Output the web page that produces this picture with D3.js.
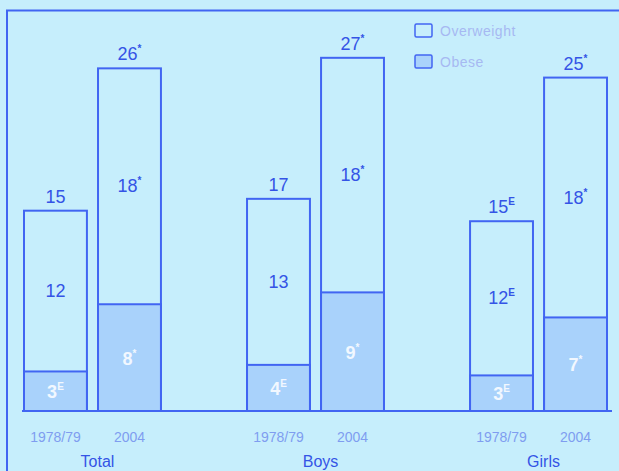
<!DOCTYPE html>
<html>
<head>
<meta charset="utf-8">
<script src="https://cdn.jsdelivr.net/npm/d3@7"></script>
<style>
  body { margin: 0; background: #c6eefc; }
  svg { display: block; font-family: "Liberation Sans", Arial, sans-serif; }
</style>
</head>
<body>
<div id="chart"></div>
<script>
// data
const groups = ["Total", "Boys", "Girls"];
const years = ["1978/79", "2004"];
// printed labels (rounded %)
const obese = [[3, 8], [4, 9], [3, 7]];
const overweight = [[12, 18], [13, 18], [12, 18]];
const totals = [[15, 26], [17, 27], [15, 25]];
// bar heights as drawn in the picture (%)
const obeseHeight = [[3.0, 8.1], [3.5, 9.0], [2.7, 7.1]];
const totalHeight = [[15.2, 26.0], [16.1, 26.8], [14.4, 25.3]];
// superscript flags: E = use with caution, * = significantly different
const obeseSup = [["E", "*"], ["E", "*"], ["E", "*"]];
const overSup = [["", "*"], ["", "*"], ["E", "*"]];
const totalSup = [["", "*"], ["", "*"], ["E", "*"]];

const width = 619, height = 471;
const lineColor = "#4165f2";
const textColor = "#3454e6";
const fadedText = "#7f9df0";

let svg = d3.select("#chart").append("svg")
    .attr("width", width)
    .attr("height", height);

svg.append("rect").attr("width", width).attr("height", height).attr("fill", "#c6eefc");

// frame
svg.append("path")
    .attr("d", `M7,${height} L7,10.5 L${width},10.5`)
    .attr("fill", "none")
    .attr("stroke", lineColor)
    .attr("stroke-width", 2);

// scales
let x0 = d3.scaleBand()
    .domain(groups)
    .range([24, 607])
    .paddingInner(0.386)
    .paddingOuter(0);

let x1 = d3.scaleBand()
    .domain(years)
    .range([0, x0.bandwidth()])
    .paddingInner(0.15);

let y = d3.scaleLinear()
    .domain([0, 28])
    .range([411, 42]);

// build rows
let rows = [];
groups.forEach((g, gi) => {
    years.forEach((yr, yi) => {
        rows.push({
            group: g, year: yr,
            obese: obese[gi][yi],
            over: overweight[gi][yi],
            total: totals[gi][yi],
            obH: obeseHeight[gi][yi],
            totH: totalHeight[gi][yi],
            obSup: obeseSup[gi][yi],
            ovSup: overSup[gi][yi],
            totSup: totalSup[gi][yi]
        });
    });
});

let bars = svg.selectAll(".bar")
    .data(rows)
    .enter().append("g")
    .attr("class", "bar")
    .attr("transform", d => `translate(${x0(d.group) + x1(d.year)},0)`);

// overweight (full stack outline)
bars.append("rect")
    .attr("x", 0)
    .attr("y", d => y(d.totH))
    .attr("width", x1.bandwidth())
    .attr("height", d => y(0) - y(d.totH))
    .attr("fill", "#c6eefc")
    .attr("stroke", lineColor)
    .attr("stroke-width", 2);

// obese
bars.append("rect")
    .attr("x", 0)
    .attr("y", d => y(d.obH))
    .attr("width", x1.bandwidth())
    .attr("height", d => y(0) - y(d.obH))
    .attr("fill", "#a9d2fb")
    .attr("stroke", lineColor)
    .attr("stroke-width", 2);

function addLabel(sel, yFn, valFn, supFn, color, bold) {
    let t = sel.append("text")
        .attr("x", x1.bandwidth() / 2)
        .attr("y", yFn)
        .attr("text-anchor", "middle")
        .attr("fill", color)
        .attr("font-size", 18)
        .attr("font-weight", bold ? "bold" : "normal");
    t.append("tspan").text(valFn);
    t.append("tspan")
        .attr("dy", -8)
        .attr("font-size", 10)
        .attr("font-weight", "bold")
        .text(supFn);
}

// totals above bars
addLabel(bars, d => y(d.totH) - 8, d => d.total, d => d.totSup, textColor, false);
// overweight-only label, middle of upper segment
addLabel(bars, d => (y(d.totH) + y(d.obH)) / 2 + 6, d => d.over, d => d.ovSup, textColor, false);
// obese label
addLabel(bars, d => (y(d.obH) + y(0)) / 2 + 7, d => d.obese, d => d.obSup, "#f2f8ff", true);

// baseline
svg.append("line")
    .attr("x1", 22).attr("x2", 612)
    .attr("y1", y(0)).attr("y2", y(0))
    .attr("stroke", lineColor)
    .attr("stroke-width", 2);

// year labels
bars.append("text")
    .attr("x", x1.bandwidth() / 2)
    .attr("y", 442)
    .attr("text-anchor", "middle")
    .attr("fill", fadedText)
    .attr("font-size", 14)
    .text(d => d.year);

// group labels
svg.selectAll(".group-label")
    .data(groups)
    .enter().append("text")
    .attr("class", "group-label")
    .attr("x", d => x0(d) + x0.bandwidth() / 2 + 5)
    .attr("y", 467)
    .attr("text-anchor", "middle")
    .attr("fill", textColor)
    .attr("font-size", 16)
    .text(d => d);

// legend
const legendItems = ["Overweight", "Obese"];
const legendFill = ["none", "#a9d2fb"];
let legend = svg.selectAll(".legend")
    .data(legendItems)
    .enter().append("g")
    .attr("class", "legend")
    .attr("transform", (d, i) => `translate(415, ${24 + i * 31})`);

legend.append("rect")
    .attr("width", 17).attr("height", 13)
    .attr("rx", 1.5)
    .attr("fill", (d, i) => legendFill[i])
    .attr("stroke", lineColor)
    .attr("stroke-width", 1.5);

legend.append("text")
    .attr("x", 25).attr("y", 11.5)
    .attr("fill", "#a6b9f2")
    .attr("font-size", 14)
    .attr("letter-spacing", 0.5)
    .text(d => d);
</script>
</body>
</html>
